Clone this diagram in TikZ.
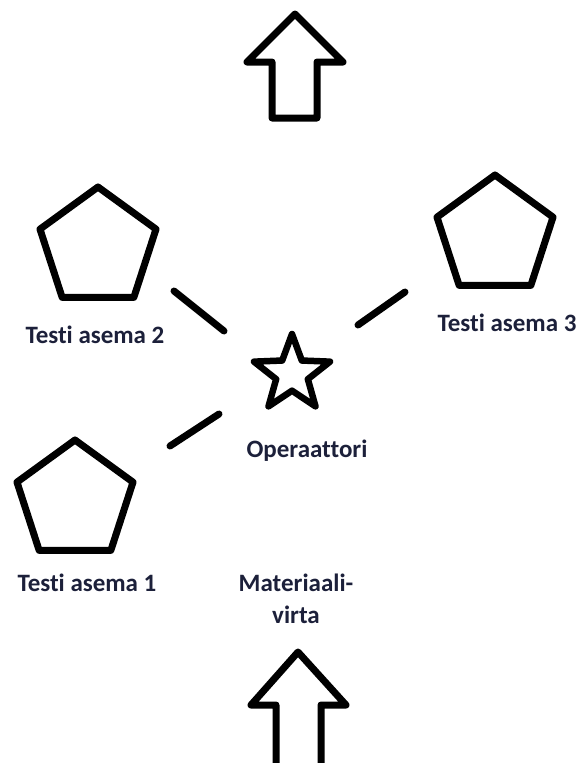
\documentclass[tikz,border=0pt]{standalone}
\usepackage{fontspec}
\setmainfont[Ligatures={NoCommon}]{Carlito}
\usetikzlibrary{shapes.geometric}
\definecolor{labelcol}{RGB}{28,32,58}
\tikzset{
  station/.style={regular polygon, regular polygon sides=5, draw=black, line width=7pt, minimum size=122pt, inner sep=0pt, line join=round},
  operator/.style={star, star points=5, star point ratio=2.4, draw=black, line width=6.5pt, minimum size=80pt, inner sep=0pt, line join=round},
  lbl/.style={font=\fontsize{25}{32}\selectfont\bfseries, text=labelcol, inner sep=0pt, align=center},
  link/.style={line width=7pt, line cap=round, black},
  bigarrow/.style={line width=7pt, line join=round, black}
}
\begin{document}
\begin{tikzpicture}[x=1pt,y=-1pt]
\useasboundingbox (0,0) rectangle (579,763);
% stations
\node[station] (s2) at (98,248) {};
\node[station] (s3) at (495,236) {};
\node[station] (s1) at (75,501) {};
\node[operator] (op) at (292,374) {};
% labels
\node[lbl] (l2) at (95,335) {Testi asema 2};
\node[lbl] (l3) at (507,323) {Testi asema 3};
\node[lbl] (l1) at (87,583) {Testi asema 1};
\node[lbl] (lop) at (307,451) {Operaattori};
\node[lbl] (lmat) at (296,599) {Materiaali-\\virta};
% links (single dash segments)
\coordinate (d2a) at (174,291);
\coordinate (d2b) at (224,331);
\coordinate (d3a) at (358,325);
\coordinate (d3b) at (405,292);
\coordinate (d1a) at (170,446);
\coordinate (d1b) at (219,414);
\draw[link] (d2a) -- (d2b);
\draw[link] (d3a) -- (d3b);
\draw[link] (d1a) -- (d1b);
% top arrow
\draw[bigarrow] (295,14) -- (247,62) -- (272,62) -- (272,118) -- (317,118) -- (317,62) -- (343,62) -- cycle;
% bottom arrow
\draw[bigarrow] (276,775) -- (276,705) -- (251,705) -- (298,652) -- (346,705) -- (321,705) -- (321,775);
\end{tikzpicture}
\end{document}
